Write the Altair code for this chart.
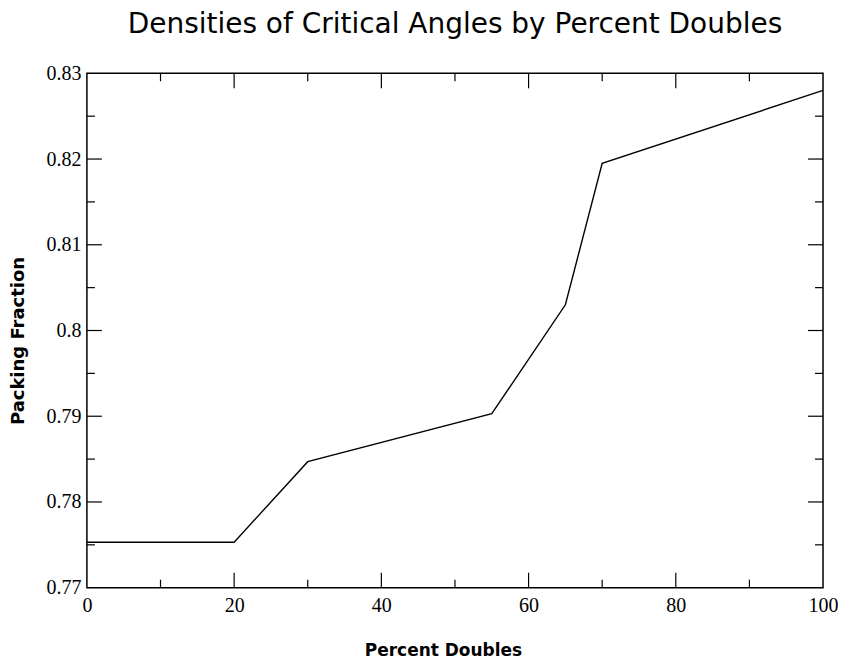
import altair as alt
import pandas as pd

# data
percent_doubles = [0, 20, 30, 55, 65, 70, 100]
packing_fraction = [0.7753, 0.7753, 0.7847, 0.7903, 0.8030, 0.8195, 0.8280]

x_major = [20, 40, 60, 80]
x_minor = [10, 30, 50, 70, 90]
y_major = [0.78, 0.79, 0.80, 0.81, 0.82]
y_minor = [0.775, 0.785, 0.795, 0.805, 0.815, 0.825]
y_labels = [0.77, 0.78, 0.79, 0.80, 0.81, 0.82, 0.83]
x_labels = [0, 20, 40, 60, 80, 100]

W, H = 737, 515
XDOM, YDOM = [0, 100], [0.77, 0.83]
MAJ, MIN = 15, 8
XTITLE, YTITLE = "Percent Doubles", "Packing Fraction"

df = pd.DataFrame({"pct": percent_doubles, "pf": packing_fraction})

xscale = alt.Scale(domain=XDOM, nice=False, zero=False)
yscale = alt.Scale(domain=YDOM, nice=False, zero=False)

xaxis = alt.Axis(values=x_labels, grid=False, ticks=False, tickSize=0,
                 domain=False, labelFont="Liberation Serif", labelFontSize=20,
                 labelColor="black", labelPadding=8, labelFlush=False,
                 labelOverlap=False, titleFont="DejaVu Sans",
                 titleFontSize=17, titleFontWeight="bold", titleColor="black",
                 titlePadding=27, titleX=W / 2 - 12)
yaxis = alt.Axis(values=y_labels, format=".2~f", grid=False, ticks=False,
                 tickSize=0, domain=False, labelFont="Liberation Serif",
                 labelFontSize=20, labelColor="black", labelPadding=6,
                 labelFlush=False, labelOverlap=False, titleFont="DejaVu Sans",
                 titleFontSize=18, titleFontWeight="bold", titleColor="black",
                 titlePadding=18, titleY=H / 2 + 10)

line = alt.Chart(df).mark_line(color="black", strokeWidth=1.4).encode(
    x=alt.X("pct:Q", scale=xscale, title=XTITLE, axis=xaxis),
    y=alt.Y("pf:Q", scale=yscale, title=YTITLE, axis=yaxis),
)


def xticks(vals, length):
    d = pd.DataFrame({"v": vals})
    enc_x = alt.X("v:Q", scale=xscale, title=XTITLE, axis=xaxis)
    bottom = alt.Chart(d).mark_rule(color="black", strokeWidth=1.2).encode(
        x=enc_x, y=alt.value(H), y2=alt.value(H - length))
    top = alt.Chart(d).mark_rule(color="black", strokeWidth=1.2).encode(
        x=enc_x, y=alt.value(0), y2=alt.value(length))
    return [bottom, top]


def yticks(vals, length):
    d = pd.DataFrame({"v": vals})
    enc_y = alt.Y("v:Q", scale=yscale, title=YTITLE, axis=yaxis)
    left = alt.Chart(d).mark_rule(color="black", strokeWidth=1.2).encode(
        y=enc_y, x=alt.value(0), x2=alt.value(length))
    right = alt.Chart(d).mark_rule(color="black", strokeWidth=1.2).encode(
        y=enc_y, x=alt.value(W), x2=alt.value(W - length))
    return [left, right]


layers = [line] + xticks(x_major, MAJ) + xticks(x_minor, MIN) + yticks(y_major, MAJ) + yticks(y_minor, MIN)

chart = alt.layer(*layers).properties(
    width=W, height=H,
    title=alt.TitleParams("Densities of Critical Angles by Percent Doubles",
                          font="DejaVu Sans", fontSize=28, fontWeight="normal",
                          color="black", anchor="middle", offset=24),
    padding={"left": 2, "top": 3, "right": 0, "bottom": 0},
    background="white",
).configure_view(stroke="black", strokeWidth=1.5)

chart.save("out.html", embed_options={"renderer": "svg", "actions": False})
